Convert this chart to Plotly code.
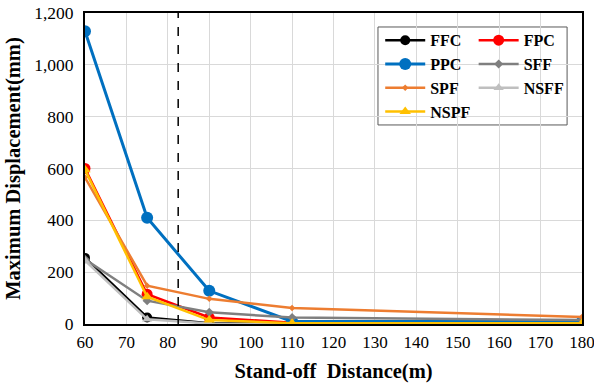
import plotly.graph_objects as go

distance = [60, 75, 90, 110, 180]
ffc = [255, 25, 3, 2, 2]
fpc = [600, 115, 25, 5, 5]
ppc = [1130, 410, 128, 10, 10]
sff = [250, 90, 45, 25, 15]
spf = [565, 148, 97, 62, 27]
nsff = [245, 18, 2, 1, 1]
nspf = [595, 105, 15, 3, 3]
threshold_x = 82.5

series = [
    ("FFC", ffc, "#000000", "circle", 10, 2.5, "legend"),
    ("FPC", fpc, "#FF0000", "circle", 11, 2.5, "legend2"),
    ("PPC", ppc, "#0070C0", "circle", 12, 3, "legend"),
    ("SFF", sff, "#7F7F7F", "diamond", 7, 2.5, "legend2"),
    ("SPF", spf, "#ED7D31", "diamond", 5, 2.5, "legend"),
    ("NSFF", nsff, "#BFBFBF", "triangle-up", 9, 2.5, "legend2"),
    ("NSPF", nspf, "#FFC000", "triangle-up", 10, 2.5, "legend"),
]

fig = go.Figure()
for name, vals, color, sym, size, lw, lg in series:
    fig.add_trace(go.Scatter(
        x=distance, y=vals, name=name, mode="lines+markers",
        line=dict(color=color, width=lw),
        marker=dict(color=color, symbol=sym, size=size),
        legend=lg,
    ))

font_family = "Liberation Serif, Times New Roman"
fig.add_shape(type="line", xref="x", yref="paper", x0=threshold_x, x1=threshold_x,
              y0=0, y1=1, line=dict(color="black", width=1.5, dash="dash"))
fig.add_shape(type="rect", xref="paper", yref="paper", x0=0.5895, x1=0.970,
              y0=0.64, y1=0.955, line=dict(color="#595959", width=1),
              fillcolor="white", layer="below")

legend_common = dict(
    bgcolor="rgba(0,0,0,0)", borderwidth=0,
    font=dict(family=font_family, size=16, color="black", weight="bold"),
    yanchor="top", xanchor="left", tracegroupgap=0, itemwidth=40,
)
fig.update_layout(
    width=594, height=383,
    margin=dict(l=85, r=12, t=13, b=59),
    paper_bgcolor="white", plot_bgcolor="white",
    font=dict(family=font_family, size=17, color="black"),
    legend=dict(x=0.594, y=0.967, **legend_common),
    legend2=dict(x=0.782, y=0.967, **legend_common),
    xaxis=dict(
        range=[60, 180], tickmode="array",
        tickvals=[60, 70, 80, 90, 100, 110, 120, 130, 140, 150, 160, 170, 180],
        showgrid=True, gridcolor="#D9D9D9", gridwidth=1,
        showline=True, linecolor="black", linewidth=2, mirror=True,
        zeroline=False, ticks="", automargin=False, ticklabeloverflow="allow",
        ticklabelstandoff=2,
        tickfont=dict(family=font_family, size=17),
        title=dict(text="Stand-off  Distance(m)",
                   font=dict(family=font_family, size=20.5, weight="bold"), standoff=12),
    ),
    yaxis=dict(
        range=[0, 1200], dtick=200, tickformat=",d",
        showgrid=True, gridcolor="#D9D9D9", gridwidth=1,
        showline=True, linecolor="black", linewidth=2, mirror=True,
        zeroline=False, ticks="", automargin=False, ticklabeloverflow="allow",
        ticklabelstandoff=6,
        tickfont=dict(family=font_family, size=17.5),
        title=dict(text="Maximum Displacement(mm)",
                   font=dict(family=font_family, size=20.5, weight="bold"), standoff=8),
    ),
)

fig.write_html("out.html", config={"displayModeBar": False},
               post_script="document.body.style.margin='0';document.body.style.overflow='hidden';")
